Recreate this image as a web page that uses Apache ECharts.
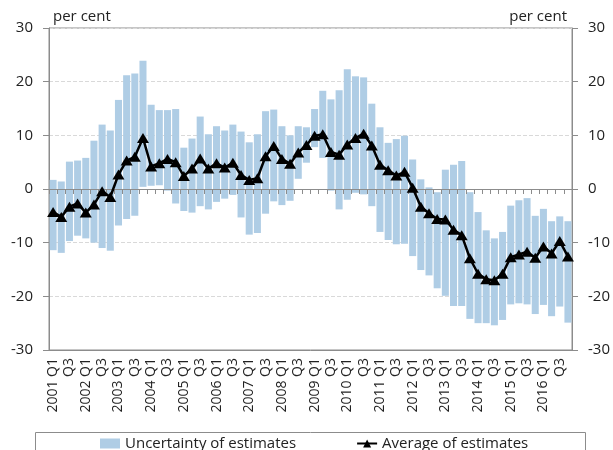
<!DOCTYPE html>
<html>
<head>
<meta charset="utf-8">
<script src="https://cdn.jsdelivr.net/npm/echarts@6/dist/echarts.min.js"></script>
<style>
  html, body { margin: 0; padding: 0; background: #fff; }
  #chart { width: 613px; height: 450px; }
</style>
</head>
<body>
<div id="chart"></div>
<script>
// quarters 2001 Q1 .. 2016 Q4
const years = ['2001', '2002', '2003', '2004', '2005', '2006', '2007', '2008',
  '2009', '2010', '2011', '2012', '2013', '2014', '2015', '2016'];
const quarters = years.flatMap((y) => [y + ' Q1', 'Q2', 'Q3', 'Q4']);

// range of estimates (low / high), per cent
const low = [
  -11.4, -11.9, -9.7, -8.7, -9.2, -10.0, -11.0, -11.5,
  -6.8, -5.6, -5.0, 0.4, 0.6, 0.7, -0.3, -2.7,
  -4.1, -4.4, -3.2, -3.8, -2.4, -1.8, -1.1, -5.3,
  -8.5, -8.2, -4.6, -2.3, -3.0, -2.2, 1.9, 4.9,
  7.8, 5.8, -0.3, -3.8, -2.0, -0.7, -1.0, -3.2,
  -8.0, -9.5, -10.3, -10.2, -12.5, -15.1, -16.1, -18.5,
  -19.9, -21.8, -21.8, -24.2, -25.0, -25.0, -25.4, -24.4,
  -21.5, -21.3, -21.5, -23.3, -21.6, -23.7, -21.9, -24.9
];
const high = [
  1.7, 1.4, 5.1, 5.3, 5.8, 9.0, 12.0, 10.9,
  16.6, 21.2, 21.5, 23.9, 15.7, 14.7, 14.7, 14.9,
  7.7, 9.4, 13.5, 10.2, 11.7, 10.9, 12.0, 10.7,
  8.7, 10.2, 14.5, 14.8, 11.7, 10.0, 11.7, 11.5,
  14.9, 18.3, 16.7, 18.4, 22.3, 21.0, 20.8, 15.9,
  11.5, 8.6, 9.3, 9.9, 5.5, 1.8, 0.3, -0.6,
  3.6, 4.5, 5.2, -0.6, -4.3, -7.7, -9.2, -8.0,
  -3.1, -2.1, -1.7, -5.0, -3.7, -6.0, -5.1, -6.0
];
// average of estimates
const average = [
  -4.3, -5.2, -3.3, -2.7, -4.4, -2.9, -0.4, -1.5,
  2.7, 5.3, 6.0, 9.5, 4.2, 4.8, 5.6, 5.0,
  2.4, 3.8, 5.7, 3.8, 4.8, 4.0, 4.9, 2.6,
  1.7, 2.0, 6.1, 8.0, 5.6, 4.7, 6.8, 8.2,
  9.9, 10.2, 6.9, 6.4, 8.3, 9.5, 10.3, 8.1,
  4.5, 3.5, 2.5, 3.2, 0.25, -3.3, -4.5, -5.6,
  -5.7, -7.6, -8.6, -12.9, -15.8, -16.8, -17.0, -15.8,
  -12.7, -12.2, -11.7, -12.8, -10.7, -12.0, -9.7, -12.6
];

const FONT = 'Open Sans';
const TEXT = '#222';
const AXIS = '#8c8c8c';
const BLUE = '#afcde5';

const spread = high.map((h, i) => +(h - low[i]).toFixed(2));

const chart = echarts.init(document.getElementById('chart'));

const yAxisBase = {
  type: 'value',
  min: -30,
  max: 30,
  interval: 10,
  nameGap: 4,
  nameTextStyle: { fontFamily: FONT, fontSize: 15, color: TEXT, verticalAlign: 'bottom' },
  axisLine: { show: true, lineStyle: { color: AXIS } },
  axisTick: { show: true, length: 6, lineStyle: { color: AXIS } },
  axisLabel: { fontFamily: FONT, fontSize: 15, color: TEXT },
};

chart.setOption({
  animation: false,
  textStyle: { fontFamily: FONT },
  grid: { left: 49, right: 40, top: 28, bottom: 100, show: true, borderColor: AXIS, borderWidth: 1 },
  legend: {
    left: 95,
    top: 431,
    itemGap: 60,
    itemWidth: 20,
    itemHeight: 10,
    textStyle: { fontFamily: FONT, fontSize: 15, color: TEXT },
    data: [
      { name: 'Uncertainty of estimates', icon: 'rect' },
      { name: 'Average of estimates' },
    ],
  },
  graphic: [
    {
      type: 'rect',
      left: 33,
      top: 430,
      shape: { width: 550, height: 40 },
      style: { fill: 'none', stroke: AXIS, lineWidth: 1 },
      silent: true,
    },
  ],
  xAxis: [
    {
      type: 'category',
      data: quarters,
      axisLine: { onZero: false, lineStyle: { color: AXIS } },
      axisTick: { show: false },
      axisLabel: { interval: 1, rotate: 90, margin: 8, fontFamily: FONT, fontSize: 14, color: TEXT },
    },
    {
      type: 'category',
      data: quarters,
      position: 'bottom',
      z: 3,
      axisLine: { onZero: true, lineStyle: { color: AXIS } },
      axisTick: { show: true, interval: 0, length: 5, lineStyle: { color: AXIS } },
      axisLabel: { show: false },
    },
  ],
  yAxis: [
    Object.assign({}, yAxisBase, {
      position: 'left',
      name: 'per cent',
      nameTextStyle: Object.assign({}, yAxisBase.nameTextStyle, { align: 'left', padding: [0, 0, 0, 4] }),
      axisLabel: Object.assign({}, yAxisBase.axisLabel, { margin: 16 }),
      splitLine: { show: true, lineStyle: { color: '#d9d9d9', type: 'dashed' } },
    }),
    Object.assign({}, yAxisBase, {
      position: 'right',
      name: 'per cent',
      nameTextStyle: Object.assign({}, yAxisBase.nameTextStyle, { align: 'right', padding: [0, 5, 0, 0] }),
      axisLabel: Object.assign({}, yAxisBase.axisLabel, { margin: 16 }),
      splitLine: { show: false },
    }),
  ],
  series: [
    {
      name: 'base',
      type: 'bar',
      stack: 'range',
      stackStrategy: 'all',
      data: low,
      barCategoryGap: '14%',
      itemStyle: { color: 'rgba(0,0,0,0)' },
      silent: true,
    },
    {
      name: 'Uncertainty of estimates',
      type: 'bar',
      stack: 'range',
      stackStrategy: 'all',
      data: spread,
      barCategoryGap: '14%',
      itemStyle: { color: BLUE },
    },
    {
      name: 'Average of estimates',
      type: 'line',
      data: average,
      z: 5,
      symbol: 'triangle',
      symbolSize: [12, 10],
      showAllSymbol: true,
      itemStyle: { color: '#000' },
      lineStyle: { color: '#000', width: 2.5 },
    },
  ],
});
</script>
</body>
</html>
